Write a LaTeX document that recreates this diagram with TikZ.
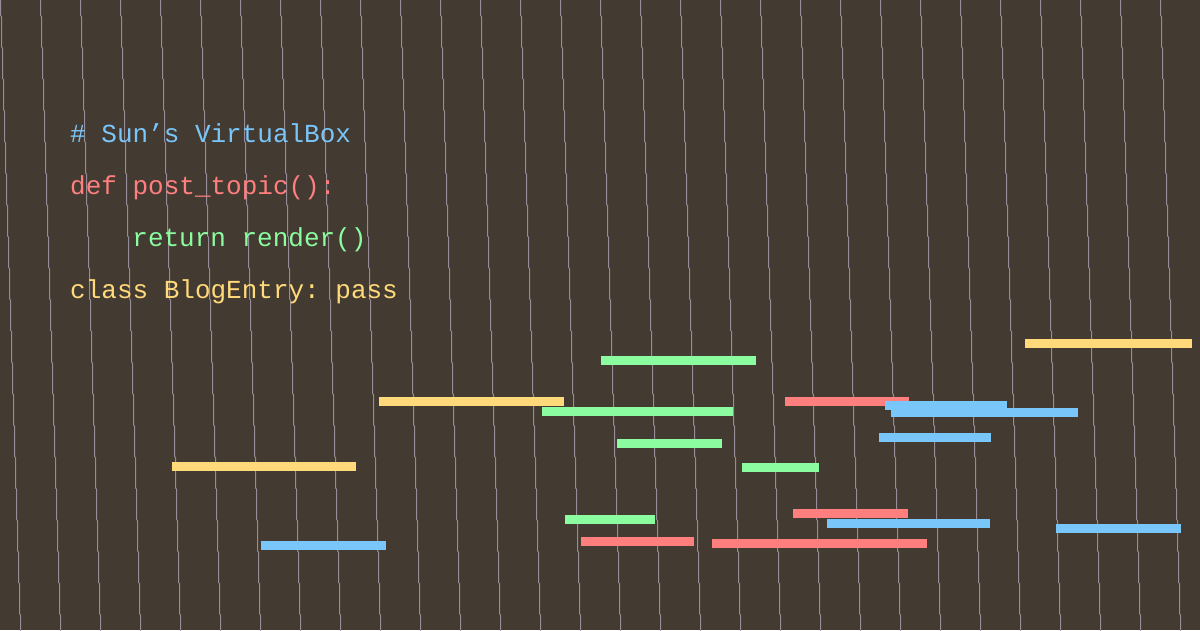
\documentclass[tikz,border=0pt]{standalone}
\usepackage{fontspec}
\setmonofont{Liberation Mono}
\definecolor{bg}{HTML}{433A31}
\definecolor{gridline}{HTML}{958C98}
\definecolor{cblue}{HTML}{79C6FA}
\definecolor{cred}{HTML}{FF7F7F}
\definecolor{cgreen}{HTML}{8CFCA0}
\definecolor{cyellow}{HTML}{FFD97A}
\begin{document}
\begin{tikzpicture}[x=1pt,y=-1pt,
  codeline/.style={anchor=base west,inner sep=0pt,font=\ttfamily\fontsize{26}{52}\selectfont},
  wave/.style={draw=gridline,line width=1pt},
  barblue/.style={fill=cblue},
  barred/.style={fill=cred},
  bargreen/.style={fill=cgreen},
  baryellow/.style={fill=cyellow}]
\fill[bg] (0,0) rectangle (1200,630);
\useasboundingbox (0,0) rectangle (1200,630);
% wavy vertical lines
\foreach \x in {0.5,40.5,...,1200}{
  \draw[wave] (\x,0) \foreach \j in {1,...,20}{ -- ({\x+\j-1},{31.5*\j-16}) -- ({\x+\j},{31.5*\j-15}) } -- ({\x+20},631);
}
% code text
\node[codeline,text=cblue]   (l1) at (70,142.5) {\# Sun’s VirtualBox};
\node[codeline,text=cred]    (l2) at (70,194.5) {def post\_topic():};
\node[codeline,text=cgreen]  (l3) at (132.2,246.5) {return render()};
\node[codeline,text=cyellow] (l4) at (70,298.5) {class BlogEntry: pass};
% bars
\fill[baryellow] (1025,339) rectangle (1192,348);
\fill[bargreen]  (601,356) rectangle (756,365);
\fill[baryellow] (379,397) rectangle (564,406);
\fill[barred]    (785,397) rectangle (909,406);
\fill[barblue]   (885,401) rectangle (1007,410);
\fill[bargreen]  (542,407) rectangle (733,416);
\fill[barblue]   (891,408) rectangle (1078,417);
\fill[barblue]   (879,433) rectangle (991,442);
\fill[bargreen]  (617,439) rectangle (722,448);
\fill[baryellow] (172,462) rectangle (356,471);
\fill[bargreen]  (742,463) rectangle (819,472);
\fill[barred]    (793,509) rectangle (908,518);
\fill[bargreen]  (565,515) rectangle (655,524);
\fill[barblue]   (827,519) rectangle (990,528);
\fill[barblue]   (1056,524) rectangle (1181,533);
\fill[barred]    (581,537) rectangle (694,546);
\fill[barred]    (712,539) rectangle (927,548);
\fill[barblue]   (261,541) rectangle (386,550);
\end{tikzpicture}
\end{document}
